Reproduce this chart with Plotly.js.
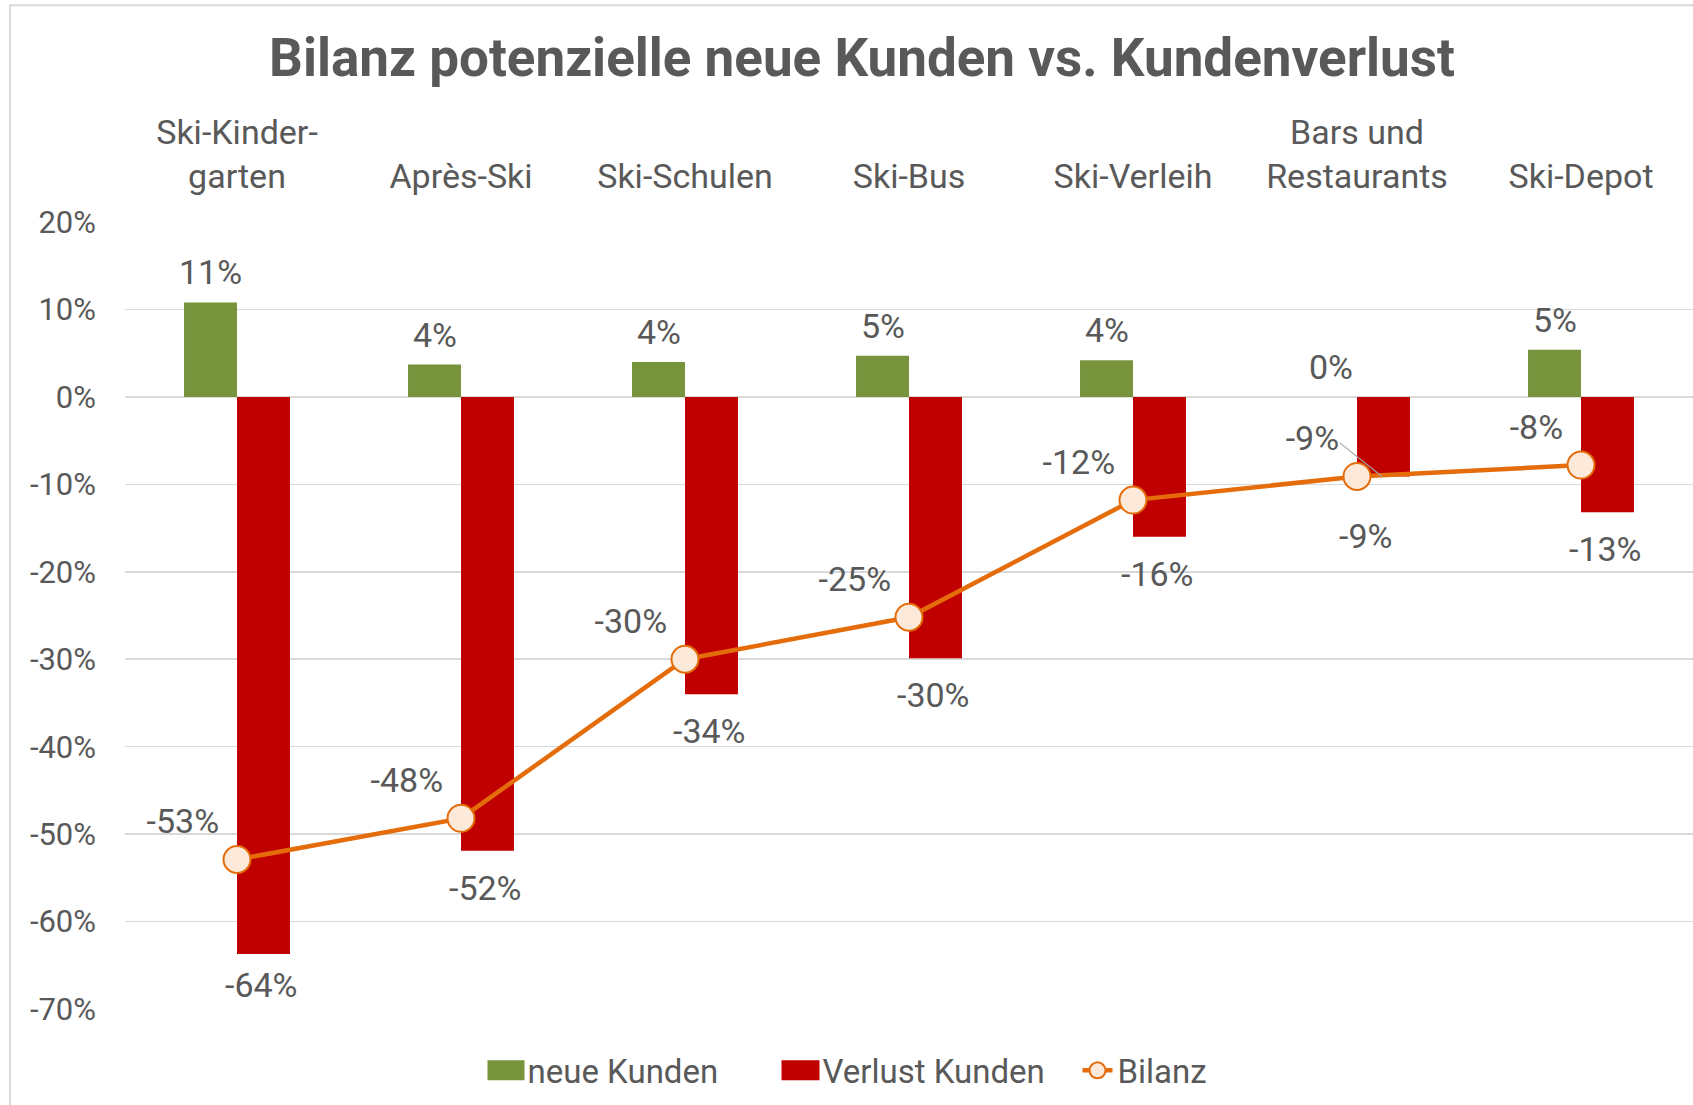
<!DOCTYPE html>
<html>
<head>
<meta charset="utf-8">
<script src="https://cdn.plot.ly/plotly-3.0.1.min.js"></script>
<style>
  html, body { margin: 0; padding: 0; background: #ffffff; }
  #chart { width: 1693px; height: 1105px; }
</style>
</head>
<body>
<div id="chart"></div>
<script>
// ---- data ----
const categories = [
  "Ski-Kinder-<br>garten",
  "Après-Ski",
  "Ski-Schulen",
  "Ski-Bus",
  "Ski-Verleih",
  "Bars und<br>Restaurants",
  "Ski-Depot"
];
const neueKunden    = [0.108, 0.037, 0.040, 0.047, 0.042, 0.000, 0.054];
const verlustKunden = [-0.637, -0.519, -0.340, -0.299, -0.160, -0.091, -0.132];
const bilanz        = [-0.529, -0.482, -0.300, -0.252, -0.118, -0.091, -0.078];
const yTickVals = [0.2, 0.1, 0, -0.1, -0.2, -0.3, -0.4, -0.5, -0.6, -0.7];
const yTickText = ["20%", "10%", "0%", "-10%", "-20%", "-30%", "-40%", "-50%", "-60%", "-70%"];
const seriesNames = ["neue Kunden", "Verlust Kunden", "Bilanz"];
const chartTitle = "Bilanz potenzielle neue Kunden vs. Kundenverlust";

const pct = v => Math.round(v * 100) + "%";

const FONT = "Roboto, 'Noto Sans', sans-serif";
const TXT = "#595959";
const GREEN = "#77933C", RED = "#C00000", ORANGE = "#E46C0A";

// layout geometry
const L = 125, R = 0, T = 222, B = 95.5, W = 1693, H = 1105;
const plotW = W - L - R, plotH = H - T - B;
const BARGAP = 0.527;
const barHalfOffset = (plotW / categories.length) * (1 - BARGAP) / 4; // centre of each bar from category centre

const traces = [
  {
    type: "bar", name: seriesNames[0], x: categories, y: neueKunden,
    marker: { color: GREEN }, hoverinfo: "skip"
  },
  {
    type: "bar", name: seriesNames[1], x: categories, y: verlustKunden,
    marker: { color: RED }, hoverinfo: "skip"
  },
  {
    type: "scatter", mode: "lines+markers+text", name: seriesNames[2],
    x: categories, y: bilanz,
    line: { color: ORANGE, width: 4.5 },
    marker: { size: 27, color: "#FDE9D9", line: { color: ORANGE, width: 2 } },
    text: bilanz.map(pct), textposition: "top left", cliponaxis: false,
    textfont: { family: FONT, size: 34, color: TXT },
    hoverinfo: "skip"
  }
];

// bar value labels (placed through the axes' own scales)
const annotations = [];
categories.forEach((c, i) => {
  annotations.push({
    x: c, y: neueKunden[i], xref: "x", yref: "y",
    text: pct(neueKunden[i]), showarrow: false,
    xanchor: "center", yanchor: "bottom",
    xshift: -barHalfOffset, yshift: 8,
    font: { family: FONT, size: 34, color: TXT }
  });
  annotations.push({
    x: c, y: verlustKunden[i], xref: "x", yref: "y",
    text: pct(verlustKunden[i]), showarrow: false,
    xanchor: "center", yanchor: "top",
    xshift: barHalfOffset - 2 + (i === 5 ? -16 : 0),
    yshift: (i === 5 ? -38 : (i === 0 ? -9 : -15)),
    font: { family: FONT, size: 34, color: TXT }
  });
});
// leader line for the moved "Bars und Restaurants" balance label
annotations.push({
  x: categories[5], y: bilanz[5], xref: "x", yref: "y",
  xshift: 25, text: "", showarrow: true, arrowhead: 0,
  arrowwidth: 1.2, arrowcolor: "#A6A6A6", ax: -44, ay: -35, standoff: 0
});

const layout = {
  width: W, height: H,
  margin: { l: L, r: R, t: T, b: B, pad: 0 },
  paper_bgcolor: "#ffffff", plot_bgcolor: "#ffffff",
  font: { family: FONT, color: TXT },
  title: {
    text: chartTitle,
    font: { family: FONT, size: 53, color: TXT, weight: "bold" },
    x: 862 / W, xanchor: "center", xref: "container",
    y: 1 - 57 / H, yanchor: "middle", yref: "container"
  },
  barmode: "group", bargap: BARGAP, bargroupgap: 0,
  showlegend: true,
  legend: {
    orientation: "h", x: (930 - L) / plotW, xanchor: "center",
    y: -0.078, yanchor: "middle",
    font: { family: FONT, size: 33, color: TXT },
    traceorder: "normal",
    entrywidth: 250, entrywidthmode: "pixels"
  },
  xaxis: {
    type: "category", side: "top", showgrid: false, zeroline: false,
    showline: false, ticks: "", ticklabelstandoff: 26,
    tickfont: { family: FONT, size: 34, color: TXT },
    fixedrange: true
  },
  yaxis: {
    range: [-0.7, 0.2], tickvals: yTickVals, ticktext: yTickText,
    showgrid: true, gridcolor: "#D9D9D9", gridwidth: 1.5,
    zeroline: true, zerolinecolor: "#D9D9D9", zerolinewidth: 1.5,
    showline: false, ticks: "", ticklabelstandoff: 28,
    tickfont: { family: FONT, size: 31, color: TXT },
    fixedrange: true
  },
  shapes: [
    {
      type: "rect", xref: "paper", yref: "paper",
      x0: (10 - L) / plotW, x1: 1.02,
      y0: -0.3, y1: 1 + (T - 5) / plotH,
      line: { color: "#D9D9D9", width: 2 }, fillcolor: "rgba(0,0,0,0)", layer: "below"
    }
  ],
  annotations: annotations
};

Plotly.newPlot("chart", traces, layout, { displayModeBar: false, staticPlot: true }).then(gd => {
  // widen the bar swatches in the legend to Excel-like rectangles
  gd.querySelectorAll(".legend .legendpoints path").forEach(p => {
    const d = p.getAttribute("d") || "";
    if (d.indexOf("M6,6H-6V-6H6Z") === 0) {
      p.setAttribute("d", "M17,10H-21V-10H17Z");
    }
  });
});
</script>
</body>
</html>
